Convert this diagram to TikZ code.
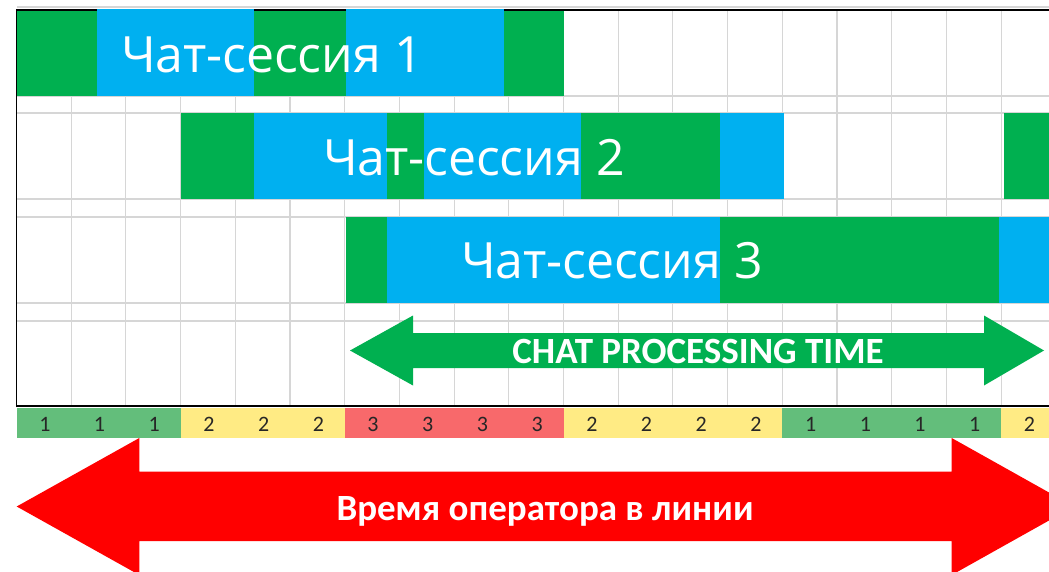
\documentclass[tikz,border=0pt]{standalone}
\usepackage{fontspec}
\setmainfont{Carlito}
\newfontfamily\sessfont{Open Sans}
\definecolor{bargreen}{HTML}{00B050}
\definecolor{barblue}{HTML}{00B0F0}
\definecolor{cellgreen}{HTML}{63BE7B}
\definecolor{cellyellow}{HTML}{FFEB84}
\definecolor{cellred}{HTML}{F8696B}
\definecolor{gridgray}{HTML}{D6D6D6}
\definecolor{arrowred}{HTML}{FF0000}
\begin{document}
\begin{tikzpicture}[x=1pt,y=-1pt,
  gridline/.style={draw=gridgray, line width=1.1pt},
  border/.style={draw=black, line width=1.6pt},
  gbar/.style={fill=bargreen},
  bbar/.style={fill=barblue},
  sesstext/.style={text=white, inner sep=0pt, anchor=base west, font=\sessfont\fontsize{50}{55}\selectfont},
  arrowtext/.style={text=white, inner sep=0pt, anchor=base, font=\fontsize{37}{40}\selectfont\bfseries},
  celltext/.style={text=black!85, inner sep=0pt, anchor=base, font=\fontsize{22}{23}\selectfont}]
\useasboundingbox (0,0) rectangle (1049,572);
\clip (0,0) rectangle (1049,572);
\fill[white] (0,0) rectangle (1049,572);
% grid
\draw[gridline] (16.5,7) -- (1049,7);
\foreach \k in {1,...,18} \draw[gridline] ({16.5+54.7*\k},10) -- ({16.5+54.7*\k},406);
\foreach \yy in {96,113,199,217,303,321} \draw[gridline] (16.5,\yy) -- (1049,\yy);
% borders
\draw[border] (1049,10) -- (16.5,10) -- (16.5,406) -- (1049,406);
% session 1
\fill[gbar] (17.3,10.8) rectangle (97,96);
\fill[bbar] (97,9) rectangle (254,96);
\fill[gbar] (254,10.8) rectangle (345.5,96);
\fill[bbar] (345.5,9) rectangle (504,96);
\fill[gbar] (504,10.8) rectangle (564,96);
% session 2
\fill[gbar] (180.6,113) rectangle (254,199);
\fill[bbar] (254,113) rectangle (387,199);
\fill[gbar] (387,113) rectangle (423.5,199);
\fill[bbar] (423.5,113) rectangle (581.4,199);
\fill[gbar] (581.4,113) rectangle (720.2,199);
\fill[bbar] (720.2,113) rectangle (784,199);
\fill[gbar] (1003.5,113) rectangle (1060,199);
% session 3
\fill[gbar] (345.5,217) rectangle (387,303);
\fill[bbar] (387,217) rectangle (720,303);
\fill[gbar] (720,217) rectangle (999.3,303);
\fill[bbar] (999.3,217) rectangle (1060,303);
% session labels
\node[sesstext] (s1) at (121,73) {Чат-сессия 1};
\node[sesstext] (s2) at (323,175.5) {Чат-сессия 2};
\node[sesstext] (s3) at (461,278.5) {Чат-сессия 3};
% green arrow
\fill[bargreen] (350,350.5) -- (413,315.5) -- (413,333) -- (984,333) -- (984,315.5) -- (1044,350.5)
  -- (984,385.5) -- (984,368) -- (413,368) -- (413,385.5) -- cycle;
\node[arrowtext] (cpt) at (698,363) {CHAT PROCESSING TIME};
% strip
\fill[cellgreen] (17.3,408) rectangle (180.6,437.5);
\foreach \v/\c [count=\i from 0] in {1/cellgreen,1/cellgreen,1/cellgreen,2/cellyellow,2/cellyellow,2/cellyellow,
  3/cellred,3/cellred,3/cellred,3/cellred,2/cellyellow,2/cellyellow,2/cellyellow,2/cellyellow,
  1/cellgreen,1/cellgreen,1/cellgreen,1/cellgreen,2/cellyellow} {
  \ifnum\i>2 \fill[\c] ({16.5+54.7*\i},408) rectangle ({16.5+54.7*(\i+1)+0.4},437.5);\fi
  \node[celltext] (n\i) at ({16.5+54.7*(\i+0.5)+1},431) {\v};
}
% red arrow
\fill[arrowred] (16.7,506.5) -- (139.3,438) -- (139.3,471.7) -- (951.7,471.7) -- (951.7,438) -- (1074,506.5)
  -- (951.7,575) -- (951.7,541) -- (139.3,541) -- (139.3,575) -- cycle;
\node[arrowtext] (opt) at (545,520) {Время оператора в линии};
\end{tikzpicture}
\end{document}
